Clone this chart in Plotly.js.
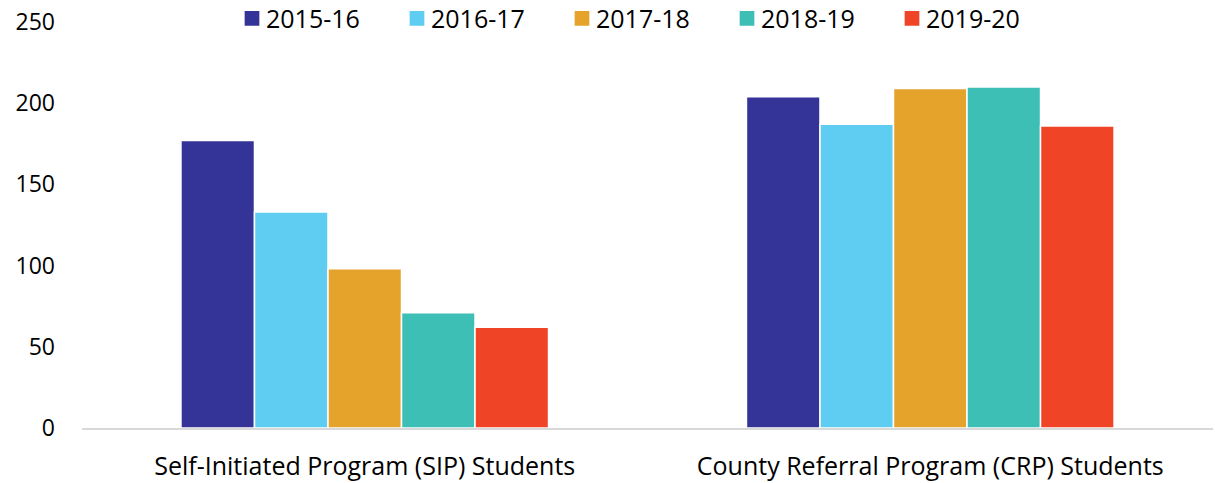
<!DOCTYPE html>
<html>
<head>
<meta charset="utf-8">
<script src="https://cdn.plot.ly/plotly-3.0.1.min.js"></script>
<style>html,body{margin:0;padding:0;background:#fff;}#chart{width:1215px;height:483px;}</style>
</head>
<body>
<div id="chart"></div>
<script>
const categories = ["Self-Initiated Program (SIP) Students", "County Referral Program (CRP) Students"];
const seriesNames = ["2015-16", "2016-17", "2017-18", "2018-19", "2019-20"];
const values2015 = [177, 204];
const values2016 = [133, 187];
const values2017 = [98, 209];
const values2018 = [71, 210];
const values2019 = [62, 186];
const colors = ["#343397", "#5fcdf2", "#e5a32b", "#3dbfb5", "#f04427"];
const allValues = [values2015, values2016, values2017, values2018, values2019];

const FONT = "'Open Sans', sans-serif";

const traces = seriesNames.map((name, i) => ({
  type: "bar",
  name: name,
  x: categories,
  y: allValues[i],
  marker: {color: colors[i], line: {color: "#ffffff", width: 1.5}},
  hoverinfo: "y+name"
}));

const layout = {
  width: 1215,
  height: 483,
  margin: {l: 82, r: 2, t: 22, b: 55},
  paper_bgcolor: "#ffffff",
  plot_bgcolor: "#ffffff",
  barmode: "group",
  bargap: 0.35,
  bargroupgap: 0,
  font: {family: FONT, color: "#000000", size: 24},
  showlegend: true,
  legend: {
    orientation: "h",
    x: 0.5 - 9 / 1131, xanchor: "center", xref: "paper",
    y: 1.05, yanchor: "top", yref: "paper",
    font: {family: FONT, size: 25, color: "#000"},
    entrywidth: 120, entrywidthmode: "pixels",
    itemwidth: 30,
    bgcolor: "rgba(0,0,0,0)"
  },
  xaxis: {
    type: "category",
    showline: true, linecolor: "#d9d9d9", linewidth: 2,
    showgrid: false, zeroline: false,
    ticks: "", tickfont: {family: FONT, size: 25, color: "#000"},
    ticklabelstandoff: 15
  },
  yaxis: {
    range: [0, 250], dtick: 50, tick0: 0,
    showgrid: false, zeroline: false, showline: false,
    ticks: "", tickfont: {family: FONT, size: 23, color: "#000"},
    ticklabelstandoff: 26
  }
};

Plotly.newPlot("chart", traces, layout, {displayModeBar: false, staticPlot: true}).then(() => {
  document.querySelectorAll("#chart .legend .legendpoints path").forEach(p => {
    p.setAttribute("transform", "translate(26,0) scale(1.4)");
  });
  const lg = document.querySelector("#chart .legend");
  if (lg) {
    const t = lg.getAttribute("transform") || "";
    const m = t.match(/translate\(\s*([-\d.]+)[ ,]+([-\d.]+)\s*\)/);
    if (m) lg.setAttribute("transform", "translate(" + m[1] + "," + (parseFloat(m[2]) - 6) + ")");
  }
});
</script>
</body>
</html>
